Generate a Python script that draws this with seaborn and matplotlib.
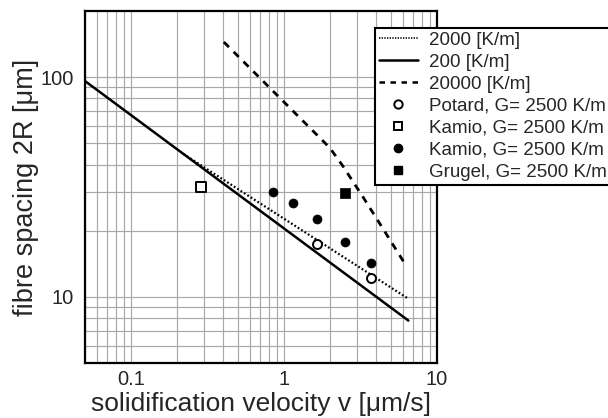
import matplotlib
matplotlib.use("Agg")
import matplotlib.pyplot as plt
from matplotlib.lines import Line2D
import seaborn as sns

# ---- data ----
v_g2000 = [0.22, 6.5]
r_g2000 = [44.7, 9.8]
v_g200 = [0.05, 6.5]
r_g200 = [96.0, 7.8]
v_g20000 = [0.404, 1.0, 1.77, 2.0, 2.4, 3.28, 4.5, 6.35]
r_g20000 = [144.5, 77.0, 51.8, 47.5, 39.8, 28.5, 20.1, 13.7]

v_potard = [1.64, 3.70]
r_potard = [17.4, 12.2]
v_kamio_sq = [0.286]
r_kamio_sq = [31.6]
v_kamio_dot = [0.847, 1.14, 1.64, 2.50, 3.70]
r_kamio_dot = [30.0, 26.7, 22.6, 17.8, 14.3]
v_grugel = [2.50]
r_grugel = [29.7]

labels = ["2000 [K/m]", "200 [K/m]", "20000 [K/m]",
          "Potard, G= 2500 K/m", "Kamio, G= 2500 K/m",
          "Kamio, G= 2500 K/m", "Grugel, G= 2500 K/m"]

x_major = [0.1, 1, 10]
x_minor = [0.05, 0.06, 0.07, 0.08, 0.09, 0.2, 0.3, 0.4, 0.5, 0.6, 0.7, 0.8, 0.9,
           2, 3, 4, 5, 6, 7, 8, 9]
y_major = [10, 100]
y_minor = [6, 7, 8, 9, 20, 30, 40, 50, 60, 70, 80, 90]

sns.set_style("white")
plt.rcParams["font.family"] = ["Liberation Sans", "DejaVu Sans"]

fig = plt.figure(figsize=(6.08, 4.18), dpi=100)
ax = fig.add_axes([85/608, 1-363/418, (437-85)/608, (363-11)/418])
ax.set_xscale("log")
ax.set_yscale("log")

lw = 1.8
dot_style = (0, (0.8, 1.0))
dash_style = (0, (2.6, 2.4))
sns.lineplot(x=v_g2000, y=r_g2000, ax=ax, color="black", lw=1.6,
             linestyle=dot_style, sort=False, estimator=None)
sns.lineplot(x=v_g200, y=r_g200, ax=ax, color="black", lw=lw,
             sort=False, estimator=None)
sns.lineplot(x=v_g20000, y=r_g20000, ax=ax, color="black", lw=2.0,
             linestyle=dash_style, sort=False, estimator=None)

ms = 42
sns.scatterplot(x=v_potard, y=r_potard, ax=ax, marker="o", s=ms,
                facecolor="white", edgecolor="black", linewidth=1.4, zorder=5)
sns.scatterplot(x=v_kamio_sq, y=r_kamio_sq, ax=ax, marker="s", s=ms,
                facecolor="white", edgecolor="black", linewidth=1.4, zorder=5)
sns.scatterplot(x=v_kamio_dot, y=r_kamio_dot, ax=ax, marker="o", s=ms,
                color="black", edgecolor="black", linewidth=0.5, zorder=5)
sns.scatterplot(x=v_grugel, y=r_grugel, ax=ax, marker="s", s=ms,
                color="black", edgecolor="black", linewidth=0.5, zorder=5)

ax.set_xlim(0.05, 10)
ax.set_ylim(5, 200)
ax.set_xticks(x_major)
ax.set_xticks(x_minor, minor=True)
ax.set_xticklabels(["0.1", "1", "10"])
ax.set_yticks(y_major)
ax.set_yticks(y_minor, minor=True)
ax.set_yticklabels(["10", "100"])
ax.set_xticklabels([], minor=True)
ax.set_yticklabels([], minor=True)

ax.grid(True, which="both", color="#a8a8a8", lw=0.85)
ax.set_axisbelow(True)
ax.tick_params(which="both", direction="in", color="black", labelsize=14.5,
               width=1.3)
ax.tick_params(which="major", length=6)
ax.tick_params(axis="x", which="major", pad=5)
ax.tick_params(axis="y", which="major", pad=8)
ax.tick_params(which="minor", length=5)
for s in ax.spines.values():
    s.set_color("black")
    s.set_linewidth(1.6)

ax.set_xlabel("solidification velocity v [\u03bcm/s]", fontsize=19, labelpad=2)
ax.set_ylabel("fibre spacing 2R [\u03bcm]", fontsize=19.5, labelpad=1)

handles = [
    Line2D([], [], color="black", lw=1.2, linestyle=(0, (0.8, 0.8))),
    Line2D([], [], color="black", lw=lw),
    Line2D([], [], color="black", lw=lw, linestyle=(0, (2.2, 2.2))),
    Line2D([], [], ls="none", marker="o", ms=6, mfc="white", mec="black", mew=1.4),
    Line2D([], [], ls="none", marker="s", ms=6, mfc="white", mec="black", mew=1.4),
    Line2D([], [], ls="none", marker="o", ms=6, mfc="black", mec="black"),
    Line2D([], [], ls="none", marker="s", ms=6, mfc="black", mec="black"),
]
leg = fig.legend(handles, labels, loc="upper left",
                 bbox_to_anchor=(375/608, 1-28/418), fontsize=13.5,
                 frameon=True, fancybox=False, framealpha=1,
                 edgecolor="black", handlelength=2.1, handletextpad=0.6,
                 labelspacing=0.26, borderpad=0.2, borderaxespad=0)
leg.get_frame().set_linewidth(1.5)

fig.savefig("out.png", dpi=100)
